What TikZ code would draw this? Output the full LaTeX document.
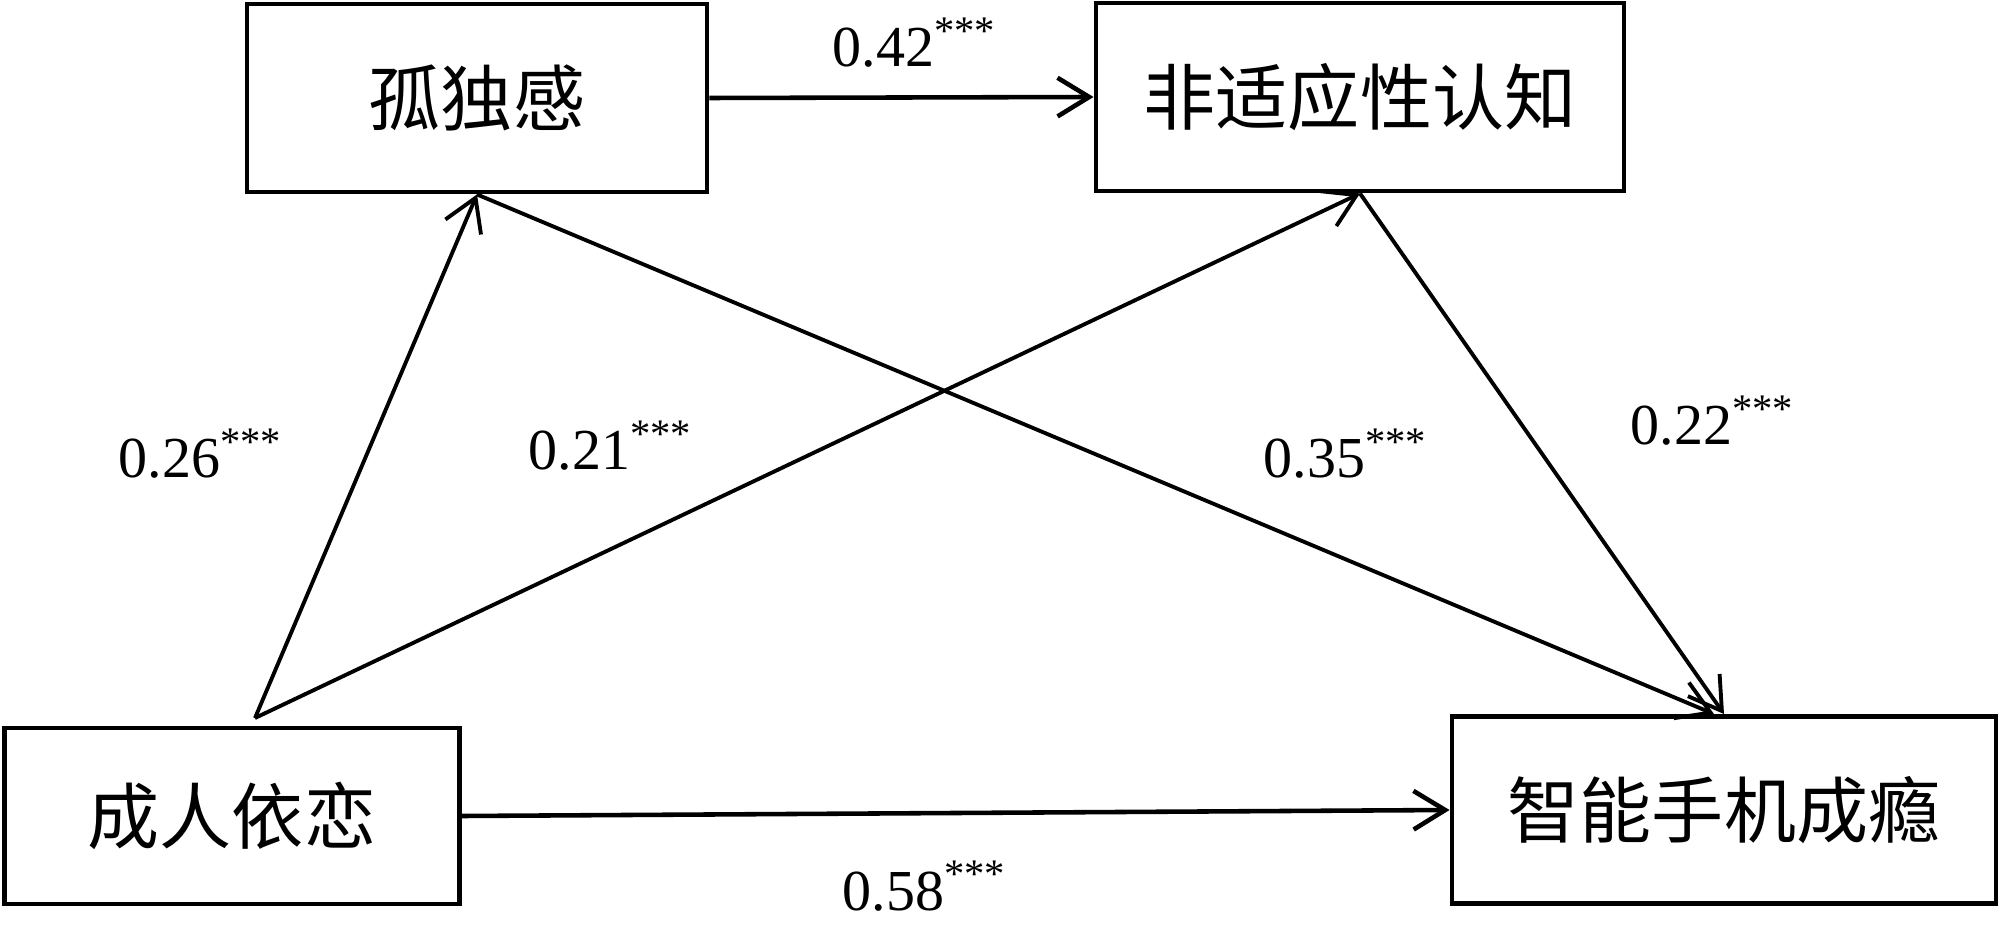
\documentclass[tikz,border=0pt]{standalone}
\usepackage{fontspec}
\setmainfont{Liberation Serif}
\newfontfamily\cjk{Noto Sans CJK SC}
\usepackage{tikz}
\usetikzlibrary{arrows.meta}

\begin{document}
\begin{tikzpicture}[
        every label/.append style={font=\small}
    ]
    \tikzstyle{var}=[draw,line width=1.4pt,inner sep=0pt,font=\cjk\fontsize{20.5}{24}\selectfont];
    \tikzstyle{arr}=[-{Straight Barb[length=9pt,width=11pt]},line width=1.1pt];
    \tikzstyle{coef}=[anchor=base west,inner sep=0pt,font=\fontsize{16.5}{20}\selectfont];
    \useasboundingbox (0,0) rectangle (20,-9.27);
    % boxes
    \node[var,minimum width=4.6cm,minimum height=1.88cm] (lone) at (4.77,-0.98) {\raisebox{-0.12cm}{孤独感}};
    \node[var,minimum width=5.28cm,minimum height=1.88cm] (cog) at (13.60,-0.97) {\raisebox{-0.15cm}{非适应性认知}};
    \node[var,minimum width=4.55cm,minimum height=1.76cm] (att) at (2.32,-8.16) {\raisebox{-0.17cm}{成人依恋}};
    \node[var,minimum width=5.44cm,minimum height=1.87cm] (addict) at (17.24,-8.10) {\raisebox{-0.08cm}{智能手机成瘾}};
    \coordinate (att top) at (2.55,-7.18);
    % paths
    \draw[arr,line width=1.3pt] (lone.east) -- (cog.west);
    \draw[arr] (att top) -- (lone.south);
    \draw[arr] (att top) -- (cog.south);
    \draw[arr] (lone.south) -- ([xshift=-0.1cm]addict.north);
    \draw[arr] (cog.south) -- (addict.north);
    \draw[arr,line width=1.3pt] (att.east) -- (addict.west);
    % coefficients
    \node[coef] (c42) at (8.32,-0.67) {0.42\textsuperscript{***}};
    \node[coef] (c26) at (1.18,-4.78) {0.26\textsuperscript{***}};
    \node[coef] (c21) at (5.28,-4.70) {0.21\textsuperscript{***}};
    \node[coef] (c35) at (12.63,-4.78) {0.35\textsuperscript{***}};
    \node[coef] (c22) at (16.30,-4.45) {0.22\textsuperscript{***}};
    \node[coef] (c58) at (8.42,-9.10) {0.58\textsuperscript{***}};
\end{tikzpicture}
\end{document}
